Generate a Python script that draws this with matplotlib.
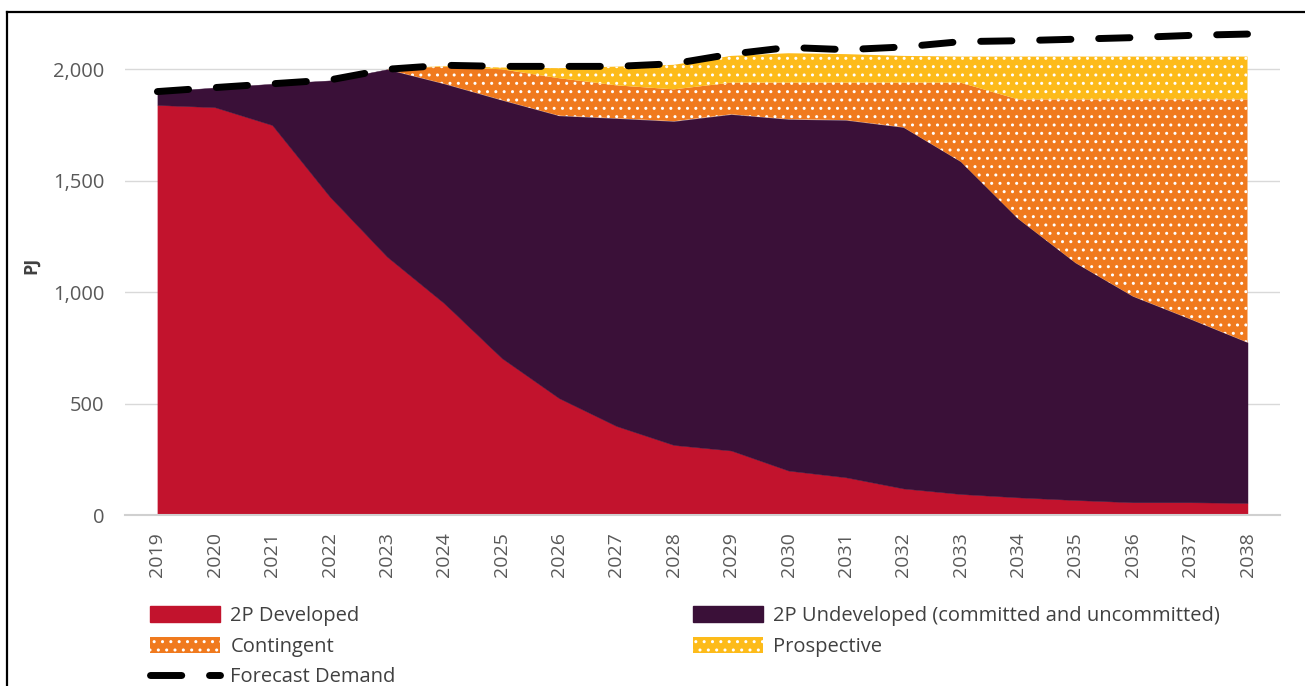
import numpy as np
import matplotlib.pyplot as plt
from matplotlib.lines import Line2D
from matplotlib.patches import Patch
from matplotlib.ticker import FuncFormatter

plt.rcParams['font.family'] = ['Open Sans', 'DejaVu Sans']

#values (PJ per year, each layer on its own)
years = ['2019', '2020', '2021', '2022', '2023', '2024', '2025', '2026', '2027', '2028',
         '2029', '2030', '2031', '2032', '2033', '2034', '2035', '2036', '2037', '2038']
developed = [1840, 1830, 1750, 1430, 1160, 950, 705, 525, 400, 315,
             290, 200, 170, 120, 95, 80, 68, 58, 58, 55]
undeveloped = [60, 88, 185, 520, 840, 985, 1157, 1267, 1380, 1452,
               1508, 1576, 1602, 1620, 1491, 1250, 1064, 924, 822, 720]
contingent = [0, 0, 0, 0, 0, 77, 138, 168, 148, 143,
              142, 164, 168, 200, 354, 535, 733, 883, 985, 1090]
prospective = [0, 0, 0, 0, 0, 3, 8, 45, 84, 110,
               120, 132, 128, 120, 117, 192, 192, 192, 192, 192]
demand = [1900, 1918, 1935, 1952, 2000, 2018, 2013, 2013, 2013, 2025,
          2068, 2098, 2088, 2100, 2124, 2128, 2135, 2142, 2152, 2158]

labels = ['2P Developed', '2P Undeveloped (committed and uncommitted)',
          'Contingent', 'Prospective', 'Forecast Demand']
colors = ['#C2132D', '#3A1038', '#F07A1E', '#FDBB1A']
hatches = [None, None, '..', '..']

fig = plt.figure(figsize=(13.05, 6.86), dpi=100)
ax = fig.add_axes([0.096, 0.249, 0.885, 0.715])

x = np.arange(len(years))
layers = [developed, undeveloped, contingent, prospective]
bottom = np.zeros(len(years))
for vals, c, h in zip(layers, colors, hatches):
	top = bottom + np.array(vals)
	ax.fill_between(x, bottom, top, facecolor=c, edgecolor='white' if h else c,
	                hatch=h, linewidth=0 if h else 0.3, zorder=2)
	bottom = top

ax.plot(x, demand, color='black', lw=5, dashes=(4.5, 4), solid_capstyle='round',
        dash_capstyle='round', zorder=3)

ax.set_xlim(-0.56, len(years) - 1 + 0.57)
ax.set_ylim(0, 2200)
ax.set_yticks([0, 500, 1000, 1500, 2000])
ax.yaxis.set_major_formatter(FuncFormatter(lambda v, p: '{:,.0f}'.format(v)))
ax.set_xticks(x)
ax.set_xticklabels(years, rotation=90)
ax.tick_params(axis='both', length=0, colors='#595959')
ax.tick_params(axis='y', pad=15, labelsize=14.5)
ax.tick_params(axis='x', pad=12, labelsize=14)
ax.grid(axis='y', color='#D9D9D9', lw=1, zorder=0)
ax.set_axisbelow(True)
for s in ['top', 'right', 'left']:
	ax.spines[s].set_visible(False)
ax.spines['bottom'].set_color('#D0D0D0')
ax.spines['bottom'].set_linewidth(1.5)
fig.text(31 / 1305, 1 - 265 / 686, 'PJ', rotation=90, ha='center', va='center',
         fontsize=13, fontweight='bold', color='#404040')

handles = [Patch(facecolor=colors[0], edgecolor=colors[0]),
           Patch(facecolor=colors[2], edgecolor='white', hatch='..', linewidth=0),
           Line2D([0], [0], color='black', lw=5, dashes=(4.5, 4), dash_capstyle='round'),
           Patch(facecolor=colors[1], edgecolor=colors[1]),
           Patch(facecolor=colors[3], edgecolor='white', hatch='..', linewidth=0)]
leg_labels = [labels[0], labels[2], labels[4], labels[1], labels[3]]
fig.legend(handles, leg_labels, ncol=2, loc='upper left', bbox_to_anchor=(0.101, 0.143),
           frameon=False, fontsize=14.5, handlelength=3.5, handleheight=0.85,
           handletextpad=0.5, labelspacing=0.53, columnspacing=14.75, labelcolor='#404040')

#outer frame seen at the top and left of the picture
fig.add_artist(Line2D([0.0054, 0.0054], [0.0, 0.983], color='black', lw=1.6))
fig.add_artist(Line2D([0.0054, 1.0], [0.983, 0.983], color='black', lw=1.6))

fig.savefig('out.png', dpi=100)
